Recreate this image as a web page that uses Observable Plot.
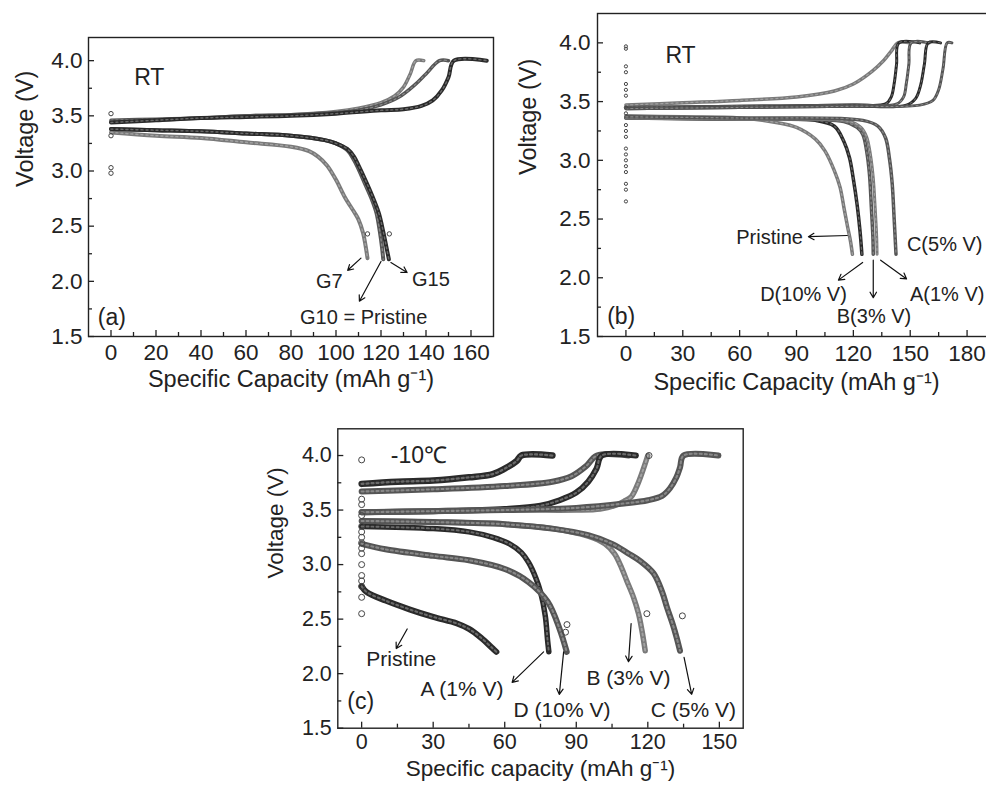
<!DOCTYPE html>
<html><head><meta charset="utf-8">
<script src="https://cdn.jsdelivr.net/npm/d3@7"></script>
<script src="https://cdn.jsdelivr.net/npm/@observablehq/plot@0.6"></script>
<style>
html,body{margin:0;padding:0;background:#fff;overflow:hidden;}
#page{position:relative;width:986px;height:788px;overflow:hidden;background:#fff;}
.panel{position:absolute;}
.panel svg{max-width:none !important;height:auto;display:block;}
</style></head><body><div id="page">
<div class="panel" id="pa" style="left:0;top:0;width:500px"></div>
<div class="panel" id="pb" style="left:497px;top:0;width:510px"></div>
<div class="panel" id="pc" style="left:250px;top:395px;width:520px"></div>
</div>
<script>
// ---------- Panel (a): RT, G7 / G10 / G15 ----------
const a_G7_charge  = [[0,3.45],[20,3.46],[40,3.48],[60,3.50],[80,3.51],[100,3.54],[110,3.57],[120,3.62],[126,3.68],[130,3.76],[133,3.88],[135.5,4.0],[139,4.0]];
const a_G10_charge = [[0,3.46],[20,3.47],[40,3.48],[60,3.50],[80,3.51],[100,3.53],[110,3.55],[120,3.60],[128,3.67],[135,3.78],[140,3.88],[146,4.0],[150,4.0]];
const a_G15_charge = [[0,3.44],[20,3.46],[40,3.48],[60,3.49],[80,3.50],[100,3.52],[120,3.55],[130,3.56],[138,3.59],[143,3.64],[147,3.73],[150,3.85],[152.4,4.0],[167,4.0]];
const a_G7_dis     = [[0,3.35],[20,3.32],[40,3.30],[60,3.26],[80,3.22],[88,3.18],[92,3.13],[96,3.05],[100,2.92],[104,2.76],[108,2.63],[110,2.56],[112,2.44],[113,2.34],[114,2.21]];
const a_G10_dis    = [[0,3.38],[20,3.37],[40,3.36],[60,3.34],[80,3.32],[95,3.28],[100,3.25],[105,3.19],[108,3.10],[110,3.02],[113,2.88],[116,2.74],[118,2.62],[119.5,2.45],[120.5,2.3],[121,2.2]];
const a_G15_dis    = [[0,3.38],[20,3.37],[40,3.36],[60,3.34],[80,3.32],[95,3.28],[100,3.25],[105,3.20],[108,3.13],[110,3.05],[113,2.92],[116,2.78],[119,2.62],[121,2.45],[122.5,2.3],[123.5,2.2]];
const a_scatter    = [[0,3.52],[0,3.32],[0,3.03],[0,2.98],[114,2.43],[123.7,2.43]];
const a_xTicks = [0,20,40,60,80,100,120,140,160];
const a_xMinor = [10,30,50,70,90,110,130,150];
const a_labels = [{x:17,y:3.85,t:"RT",s:23},{x:0.4,y:1.67,t:"(a)",s:23},{x:97,y:2.0,t:"G7",s:20},{x:142.2,y:2.02,t:"G15",s:20},{x:112.3,y:1.67,t:"G10 = Pristine",s:20}];
const a_arrows = [[111.1,2.21,105.2,2.10],[120,2.18,110.4,1.82],[124.4,2.17,131.6,2.08]];

// ---------- Panel (b): RT, Pristine / A / B / C / D ----------
const b_P_charge = [[0,3.47],[30,3.49],[60,3.51],[90,3.54],[110,3.59],[120,3.65],[130,3.76],[136,3.85],[140,3.93],[143.5,4.0],[150,4.0]];
const b_c1_charge = [[0,3.45],[60,3.46],[120,3.47],[137,3.48],[140,3.54],[141.5,3.65],[142.8,3.82],[144,4.0],[155,4.0]];
const b_c2_charge = [[0,3.45],[60,3.46],[120,3.47],[143,3.48],[146.5,3.54],[148,3.66],[149.3,3.82],[150.5,4.0],[160,4.0]];
const b_c3_charge = [[0,3.44],[60,3.45],[120,3.46],[148,3.47],[153,3.53],[155.5,3.64],[157.5,3.82],[159.5,4.0],[166,4.0]];
const b_c4_charge = [[0,3.44],[60,3.45],[120,3.46],[155,3.47],[162,3.51],[165,3.60],[167.3,3.78],[169.5,4.0],[172,4.0]];
const b_P_dis = [[0,3.38],[30,3.37],[60,3.36],[80,3.32],[90,3.28],[100,3.18],[105,3.08],[110,2.91],[113,2.77],[115,2.60],[117,2.43],[118.5,2.31],[119.5,2.2]];
const b_D_dis = [[0,3.36],[60,3.35],[100,3.34],[110,3.29],[115,3.16],[118,3.02],[120,2.84],[122,2.62],[123.5,2.40],[124.5,2.2]];
const b_B_dis = [[0,3.36],[60,3.35],[115,3.33],[122,3.28],[125,3.22],[127,3.08],[128.5,2.88],[129.5,2.60],[130.3,2.35],[130.5,2.2]];
const b_A_dis = [[0,3.36],[60,3.35],[118,3.33],[124,3.28],[127,3.20],[129,3.05],[130.5,2.85],[131.5,2.60],[132.3,2.35],[132.5,2.2]];
const b_C_dis = [[0,3.37],[60,3.36],[125,3.34],[133,3.29],[137,3.19],[139,3.02],[140.5,2.80],[141.5,2.51],[142.5,2.2]];
const b_scatterV = [3.97,3.95,3.80,3.75,3.65,3.60,3.55,3.45,3.40,3.30,3.25,3.20,3.10,3.05,3.00,2.95,2.90,2.80,2.75,2.65];
const b_xTicks = [0,30,60,90,120,150,180];
const b_xMinor = [15,45,75,105,135,165];
const b_labels = [{x:28.8,y:3.89,t:"RT",s:23},{x:-2.5,y:1.67,t:"(b)",s:23},{x:75.8,y:2.34,t:"Pristine",s:20},{x:168.2,y:2.28,t:"C(5% V)",s:20},{x:93.7,y:1.86,t:"D(10% V)",s:20},{x:130.9,y:1.67,t:"B(3% V)",s:20},{x:169.5,y:1.86,t:"A(1% V)",s:20}];
const b_arrows = [[116.8,2.36,96.3,2.35],[124.9,2.13,112.1,1.98],[130.5,2.15,130.5,1.83],[134.4,2.15,148.1,1.99]];

// ---------- Panel (c): -10 C ----------
const c_P_charge = [[0,3.74],[15,3.76],[30,3.77],[45,3.80],[55,3.83],[60,3.88],[65,3.95],[67,4.0],[80,4.0]];
const c_A_charge = [[0,3.67],[30,3.69],[60,3.72],[80,3.76],[88,3.81],[94,3.90],[98.7,4.0],[112,4.0]];
const c_D_charge = [[0,3.48],[30,3.49],[60,3.51],[75,3.54],[83,3.59],[90,3.66],[95,3.76],[98.5,3.88],[100.7,4.0],[115,4.0]];
const c_B_charge = [[0,3.48],[30,3.49],[60,3.50],[90,3.50],[100,3.51],[106,3.54],[110,3.58],[113,3.62],[116,3.75],[118.5,3.90],[120,4.0]];
const c_C_charge = [[0,3.48],[30,3.49],[60,3.50],[90,3.52],[110,3.56],[120,3.59],[126,3.63],[129.3,3.70],[132,3.80],[133.5,3.89],[135,4.0],[149.6,4.0]];
const c_P_dis = [[0,2.80],[2,2.75],[10,2.67],[20,2.59],[30,2.52],[40,2.46],[45,2.41],[50,2.33],[55,2.23],[56.5,2.2]];
const c_A_dis = [[0,3.35],[30,3.33],[45,3.30],[55,3.25],[62,3.19],[67,3.11],[70,3.02],[73,2.88],[75,2.75],[77,2.53],[78,2.30],[78.5,2.2]];
const c_D_dis = [[0,3.19],[10,3.14],[30,3.08],[45,3.04],[60,2.96],[70,2.84],[78,2.66],[83,2.41],[86,2.2]];
const c_B_dis = [[0,3.40],[30,3.39],[60,3.37],[80,3.33],[95,3.26],[102,3.19],[106,3.10],[109,2.97],[111.2,2.85],[114,2.70],[116.1,2.55],[117.5,2.40],[118.9,2.21]];
const c_C_dis = [[0,3.40],[30,3.39],[60,3.37],[80,3.33],[95,3.27],[105,3.19],[112,3.10],[117,3.03],[122.4,2.92],[126,2.75],[128,2.61],[130.5,2.45],[132.1,2.33],[133.5,2.21]];
const c_scatter = [[0,3.96],[0,3.60],[0,3.55],[0,3.45],[0,3.35],[0,3.30],[0,3.25],[0,3.20],[0,3.15],[0,3.10],[0,3.00],[0,2.90],[0,2.85],[0,2.80],[0,2.70],[0,2.55],[134.5,2.53],[86.1,2.45],[85.5,2.38],[119.6,2.55],[120.5,4.0]];
const c_xTicks = [0,30,60,90,120,150];
const c_xMinor = [15,45,75,105,135];
const c_labels = [{x:24,y:4.0,t:"-10\u2103",s:23},{x:-0.4,y:1.74,t:"(c)",s:23},{x:16.6,y:2.13,t:"Pristine",s:21},{x:42.1,y:1.86,t:"A (1% V)",s:21},{x:84,y:1.66,t:"D (10% V)",s:21},{x:111.9,y:1.96,t:"B (3% V)",s:21},{x:139.1,y:1.66,t:"C (5% V)",s:21}];
const c_arrows = [[19.1,2.41,14.5,2.23],[76.3,2.20,63.1,1.92],[84.7,2.20,82.9,1.81],[113.0,2.46,111.9,2.11],[135.2,2.15,138.4,1.81]];

const yTicks = [1.5,2.0,2.5,3.0,3.5,4.0];
const yMinor = [1.75,2.25,2.75,3.25,3.75];

const FONT = "'Liberation Sans', Arial, Helvetica, sans-serif";

function panel(o) {
  const [mt, mr, mb, ml] = o.margins;
  const fw = o.width - ml - mr, fh = o.height - mt - mb;
  const tf = o.tickFont || 23, lf = o.titleFont || 24;
  const marks = [];
  for (const c of o.curves) {
    marks.push(Plot.line(c.data, {x: d => d[0], y: d => d[1], stroke: c.stroke, strokeWidth: c.sw, curve: "catmull-rom", strokeLinecap: "round", strokeLinejoin: "round"}));
    marks.push(Plot.line(c.data, {x: d => d[0], y: d => d[1], stroke: "#fff", strokeOpacity: 0.3, strokeWidth: Math.max(1, c.sw * 0.35), strokeDasharray: "2,3", curve: "catmull-rom"}));
  }
  if (o.scatter) marks.push(Plot.dot(o.scatter, {x: d => d[0], y: d => d[1], r: o.dotR || 2.2, stroke: "#444", strokeWidth: 1, fill: "none"}));
  marks.push(
    Plot.frame({stroke: "#222", strokeWidth: 1.4}),
    Plot.tickX(o.xTicks, {x: d => d, insetTop: fh - 6, stroke: "#222", strokeWidth: 1.3}),
    Plot.tickX(o.xMinor, {x: d => d, insetTop: fh - 4, stroke: "#222", strokeWidth: 1.3}),
    Plot.tickY(yTicks, {y: d => d, insetRight: fw - 6, stroke: "#222", strokeWidth: 1.3}),
    Plot.tickY(yMinor, {y: d => d, insetRight: fw - 4, stroke: "#222", strokeWidth: 1.3}),
    Plot.axisX(o.xTicks, {tickSize: 0, tickPadding: o.xPad, label: null, fontSize: tf, fill: "#222", tickFormat: d => String(d)}),
    Plot.axisY(yTicks, {tickSize: 0, tickPadding: o.yPad, label: null, fontSize: tf, fill: "#222", tickFormat: d => d.toFixed(1)}),
    Plot.text([o.xTitle], {text: d => d, frameAnchor: "bottom", dy: o.xTitleDy, fontSize: lf, fill: "#222"}),
    Plot.text(["Voltage (V)"], {text: d => d, frameAnchor: "left", dx: -o.yTitleDx, rotate: -90, fontSize: lf, fill: "#222"}),
    Plot.arrow(o.arrows, {x1: d => d[0], y1: d => d[1], x2: d => d[2], y2: d => d[3], stroke: "#111", strokeWidth: 1.2, headLength: 8}),
    Plot.text(o.labels, {x: d => d.x, y: d => d.y, text: d => d.t, fontSize: d => d.s, fill: "#222"})
  );
  return Plot.plot({
    width: o.width, height: o.height,
    marginTop: mt, marginRight: mr, marginBottom: mb, marginLeft: ml,
    x: {domain: o.xDomain, axis: null},
    y: {domain: o.yDomain, axis: null},
    style: {fontFamily: FONT, background: "transparent", overflow: "visible", maxWidth: "none"},
    marks
  });
}

const dark = "#2a2a2a", mid = "#555", light = "#7a7a7a";

document.getElementById("pa").append(panel({
  width: 500, height: 400, margins: [37, 7, 64, 88],
  xDomain: [-10, 170], yDomain: [1.5, 4.21],
  xTicks: a_xTicks, xMinor: a_xMinor, xPad: 8, yPad: 6, tickFont: 22.5, titleFont: 23.5,
  xTitle: "Specific Capacity (mAh g\u207B\u00B9)", xTitleDy: 50, yTitleDx: 63,
  curves: [
    {data: a_G7_dis, stroke: light, sw: 4},
    {data: a_G10_dis, stroke: mid, sw: 4},
    {data: a_G15_dis, stroke: dark, sw: 4},
    {data: a_G7_charge, stroke: light, sw: 3.5},
    {data: a_G10_charge, stroke: mid, sw: 3.5},
    {data: a_G15_charge, stroke: dark, sw: 4}
  ],
  scatter: a_scatter, labels: a_labels, arrows: a_arrows
}));

document.getElementById("pb").append(panel({
  width: 510, height: 400, margins: [13, 12, 64, 100],
  xDomain: [-15, 195], yDomain: [1.5, 4.25],
  xTicks: b_xTicks, xMinor: b_xMinor, xPad: 9, yPad: 7, tickFont: 22.5, titleFont: 23.5,
  xTitle: "Specific Capacity (mAh g\u207B\u00B9)", xTitleDy: 53, yTitleDx: 69,
  curves: [
    {data: b_P_dis, stroke: light, sw: 3.5},
    {data: b_D_dis, stroke: dark, sw: 3.5},
    {data: b_B_dis, stroke: mid, sw: 3.5},
    {data: b_A_dis, stroke: light, sw: 3},
    {data: b_C_dis, stroke: mid, sw: 3.5},
    {data: b_P_charge, stroke: light, sw: 3.5},
    {data: b_c1_charge, stroke: dark, sw: 3},
    {data: b_c2_charge, stroke: mid, sw: 3},
    {data: b_c3_charge, stroke: dark, sw: 3},
    {data: b_c4_charge, stroke: mid, sw: 3}
  ],
  scatter: b_scatterV.map(v => [0, v]), dotR: 1.6, labels: b_labels, arrows: b_arrows
}));

document.getElementById("pc").append(panel({
  width: 520, height: 393, margins: [33.3, 27.3, 60.3, 87.3],
  xDomain: [-10, 160], yDomain: [1.5, 4.245],
  xTicks: c_xTicks, xMinor: c_xMinor, xPad: 6, yPad: 6, tickFont: 21.5, titleFont: 22.5,
  xTitle: "Specific capacity (mAh g\u207B\u00B9)", xTitleDy: 48, yTitleDx: 62,
  curves: [
    {data: c_P_dis, stroke: dark, sw: 6},
    {data: c_A_dis, stroke: dark, sw: 5.5},
    {data: c_D_dis, stroke: mid, sw: 6},
    {data: c_B_dis, stroke: light, sw: 5.5},
    {data: c_C_dis, stroke: mid, sw: 6},
    {data: c_P_charge, stroke: dark, sw: 6.5},
    {data: c_A_charge, stroke: mid, sw: 6},
    {data: c_D_charge, stroke: dark, sw: 6},
    {data: c_B_charge, stroke: light, sw: 5.5},
    {data: c_C_charge, stroke: mid, sw: 6}
  ],
  scatter: c_scatter, dotR: 3, labels: c_labels, arrows: c_arrows
}));
</script>
</body></html>
